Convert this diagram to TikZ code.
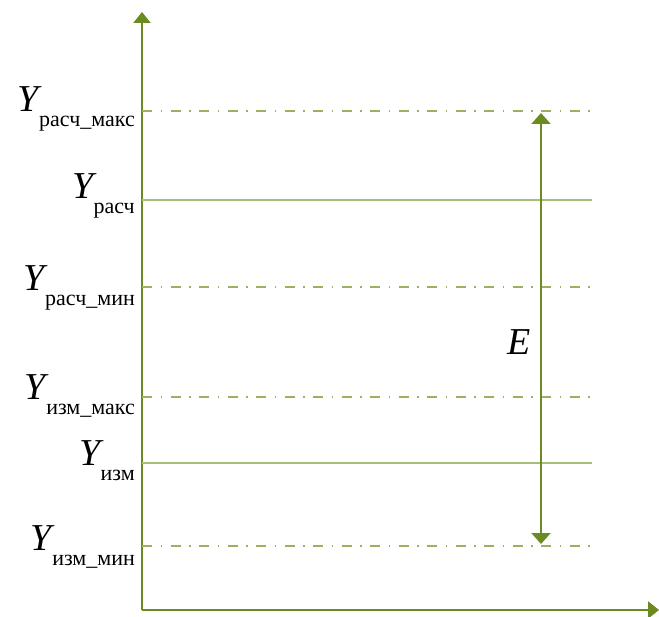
\documentclass[tikz,border=0pt]{standalone}
\usepackage{fontspec}
\setmainfont{Liberation Serif}
\usetikzlibrary{arrows.meta}
\definecolor{axisgreen}{HTML}{6B8A1F}
\definecolor{levelgreen}{HTML}{A6BE78}
\definecolor{boundgreen}{HTML}{98B262}
\newcommand{\ylab}[1]{\textit{Y}\kern-3pt\raisebox{-15pt}{\fontsize{22}{22}\selectfont #1}}

\begin{document}
\begin{tikzpicture}[
  x=1pt, y=-1pt,
  font=\fontsize{38}{38}\selectfont,
  axis/.style={draw=axisgreen, line width=2pt, -{Triangle[width=17pt,length=11pt]}},
  level/.style={draw=levelgreen, line width=2pt},
  bound/.style={draw=boundgreen, line width=2pt, dash pattern=on 10pt off 8.5pt on 1.5pt off 8.5pt},
  lab/.style={anchor=base east, inner sep=0pt},
  err/.style={draw=axisgreen, line width=2pt,
              {Triangle[width=19pt,length=11pt]}-{Triangle[width=19pt,length=11pt]}}]
\useasboundingbox (0,0) rectangle (659,617);
% axes
\coordinate (o) at (142,610);
\coordinate (ytop) at (142,12);
\coordinate (xend) at (659,610);
\draw[axis] (o) -- (ytop);
\draw[axis] (o) -- (xend);
% levels
\coordinate (rmax) at (142,111);   \coordinate (rmax') at (592,111);
\coordinate (r) at (142,200);      \coordinate (r') at (592,200);
\coordinate (rmin) at (142,287);   \coordinate (rmin') at (592,287);
\coordinate (mmax) at (142,397);   \coordinate (mmax') at (592,397);
\coordinate (m) at (142,463);      \coordinate (m') at (592,463);
\coordinate (mmin) at (142,546);   \coordinate (mmin') at (592,546);
\draw[bound] (rmax) -- (rmax');
\draw[level] (r) -- (r');
\draw[bound] (rmin) -- (rmin');
\draw[bound] (mmax) -- (mmax');
\draw[level] (m) -- (m');
\draw[bound] (mmin) -- (mmin');
% labels
\node[lab] (lrmax) at (135,112) {\ylab{расч\_макс}};
\node[lab] (lr) at (135,199) {\ylab{расч}};
\node[lab] (lrmin) at (135,291) {\ylab{расч\_мин}};
\node[lab] (lmmax) at (135,400) {\ylab{изм\_макс}};
\node[lab] (lm) at (135,466) {\ylab{изм}};
\node[lab] (lmmin) at (135,550) {\ylab{изм\_мин}};
% error band
\coordinate (etop) at (541,113);
\coordinate (ebot) at (541,544);
\draw[err] (ebot) -- (etop);
\node[lab] (e) at (531,355) {\textit{E}};
\end{tikzpicture}
\end{document}
